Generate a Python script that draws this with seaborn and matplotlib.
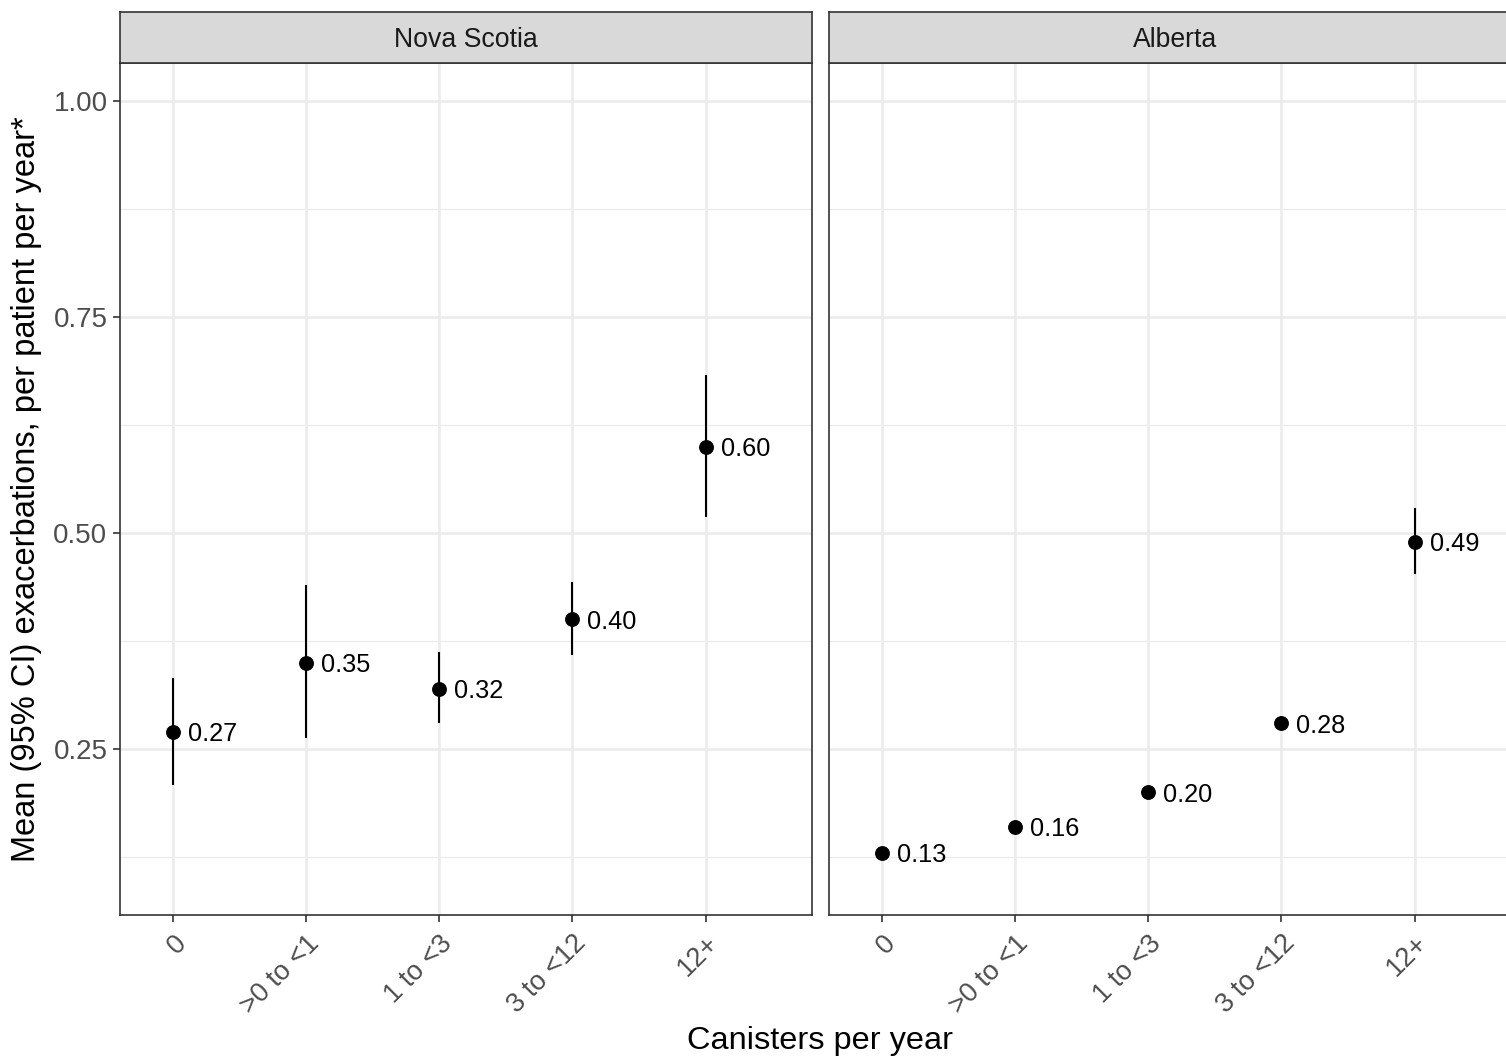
import numpy as np
import pandas as pd
import matplotlib
matplotlib.use("Agg")
import matplotlib.pyplot as plt
import seaborn as sns

# Exacerbation rates by inhaler canister use, per province
categories = ["0", ">0 to <1", "1 to <3", "3 to <12", "12+"]
provinces = ["Nova Scotia", "Alberta"]

ns_mean = [0.27, 0.35, 0.32, 0.40, 0.60]
ns_lower = [0.208, 0.263, 0.280, 0.359, 0.519]
ns_upper = [0.332, 0.440, 0.362, 0.443, 0.683]

ab_mean = [0.13, 0.16, 0.20, 0.28, 0.49]
ab_lower = [0.126, 0.155, 0.195, 0.272, 0.453]
ab_upper = [0.134, 0.165, 0.205, 0.288, 0.529]

frames = []
for prov, m, lo, hi in [("Nova Scotia", ns_mean, ns_lower, ns_upper),
                        ("Alberta", ab_mean, ab_lower, ab_upper)]:
    frames.append(pd.DataFrame({"province": prov, "category": categories,
                                "mean": m, "lower": lo, "upper": hi}))
df = pd.concat(frames, ignore_index=True)
df["xpos"] = df["category"].map({c: i for i, c in enumerate(categories)})

sns.set_theme(style="white")
plt.rcParams["font.family"] = ["Liberation Sans", "DejaVu Sans"]

W, H = 1506, 1060
fig = plt.figure(figsize=(W / 100, H / 100), dpi=100)

panel_w = 692 / W
panel_h = 852 / H
panel_b = 1 - 915 / H
strip_h = 51 / H
lefts = [120 / W, 829 / W]

border = "#333333"
grid_c = "#EBEBEB"

for i, prov in enumerate(provinces):
    ax = fig.add_axes([lefts[i], panel_b, panel_w, panel_h])
    sub = df[df["province"] == prov]

    ax.set_xlim(-0.4, 4.8)
    ax.set_ylim(0.058, 1.044)

    # grid
    for y in [0.125, 0.375, 0.625, 0.875]:
        ax.axhline(y, color=grid_c, lw=0.9, zorder=0)
    for y in [0.25, 0.5, 0.75, 1.0]:
        ax.axhline(y, color=grid_c, lw=1.8, zorder=0)
    for x in range(len(categories)):
        ax.axvline(x, color=grid_c, lw=1.8, zorder=0)

    ax.vlines(sub["xpos"], sub["lower"], sub["upper"], color="black", lw=1.5, zorder=2)
    sns.scatterplot(data=sub, x="xpos", y="mean", ax=ax, color="black",
                    s=115, edgecolor="black", linewidth=0, zorder=3, legend=False)
    for _, r in sub.iterrows():
        ax.annotate(f"{r['mean']:.2f}", (r["xpos"], r["mean"]), xytext=(15, 0),
                    textcoords="offset pixels", ha="left", va="center_baseline",
                    fontsize=18.3, color="black", zorder=4)

    ax.set_xticks(range(len(categories)))
    ax.set_xticklabels(categories, rotation=45, ha="right", va="top",
                       rotation_mode="anchor", fontsize=19.5, color="#4D4D4D")
    ax.set_yticks([0.25, 0.5, 0.75, 1.0])
    if i == 0:
        ax.set_yticklabels(["0.25", "0.50", "0.75", "1.00"], fontsize=20, color="#4D4D4D")
        ax.set_ylabel("Mean (95% CI) exacerbations, per patient per year*",
                      fontsize=23.5, color="black", labelpad=8)
    else:
        ax.set_yticklabels([])
        ax.tick_params(axis="y", length=0)
        ax.set_ylabel("")
    ax.set_xlabel("")
    ax.tick_params(axis="both", direction="out", length=5, width=1.2, color=border,
                   bottom=True, left=(i == 0), pad=4)
    ax.tick_params(axis="x", pad=6)
    for sp in ax.spines.values():
        sp.set_color(border)
        sp.set_linewidth(1.2)

    # facet strip
    sax = fig.add_axes([lefts[i], panel_b + panel_h, panel_w, strip_h])
    sax.set_facecolor("#D9D9D9")
    sax.set_xticks([])
    sax.set_yticks([])
    for sp in sax.spines.values():
        sp.set_color(border)
        sp.set_linewidth(1.2)
    sax.text(0.5, 0.5, prov, transform=sax.transAxes, ha="center", va="center_baseline",
             fontsize=19.2, color="#1A1A1A")

fig.text(820 / W, 1 - 1041 / H, "Canisters per year", ha="center", va="center",
         fontsize=23.4, color="black")

fig.savefig("out.png", dpi=100, facecolor="white")
